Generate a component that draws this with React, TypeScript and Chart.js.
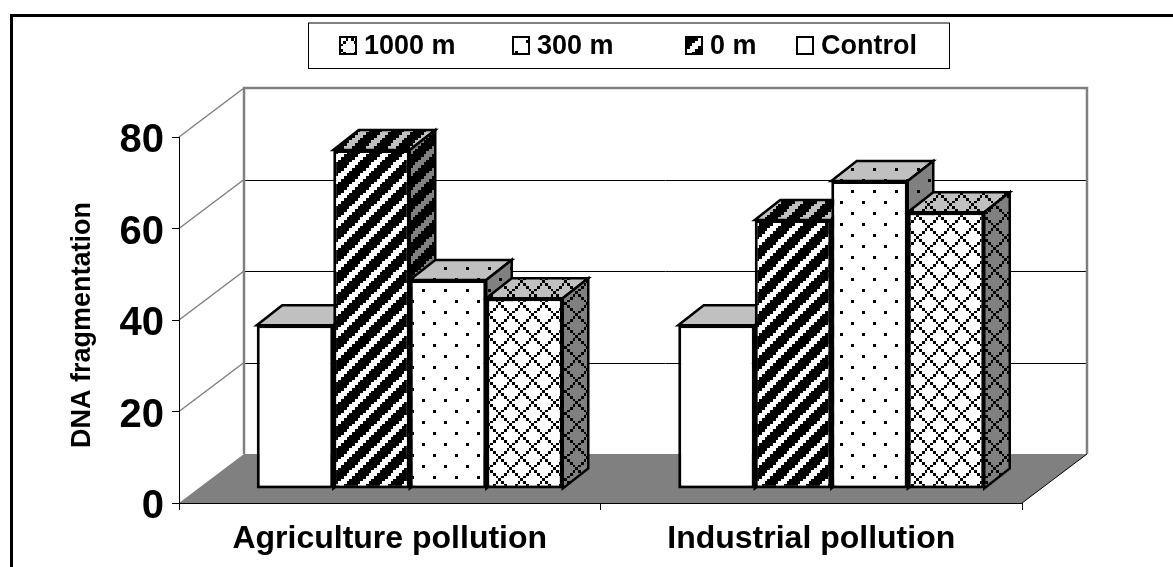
import React, { useEffect, useRef } from "react";
import { Chart, registerables } from "chart.js";

Chart.register(...registerables);

const categories = ["Agriculture pollution", "Industrial pollution"];
const seriesLabels = ["Control", "0 m", "300 m", "1000 m"];
const controlValues = [35.8, 35.8];
const zeroMValues = [74.1, 58.8];
const threeHundredMValues = [45.7, 67.3];
const thousandMValues = [41.7, 60.5];
const yTicks = [0, 20, 40, 60, 80];

const FONT = "'Liberation Sans', Arial, sans-serif";
const WALL_DX = 65;
const WALL_DY = -49;
const BAR_SHIFT_X = 20;
const BAR_SHIFT_Y = -14;
const BAR_DEPTH_X = 25.5;
const BAR_DEPTH_Y = -20;
const CELL = 2.75;
const TILE = 22;

type Kind = "solid" | "stripe" | "dots" | "cross";

const PHASE: Record<Kind, [number, number]> = {
  solid: [0, 0],
  stripe: [21, 0],
  dots: [6, 17],
  cross: [16, 8],
};

function isInk(kind: Kind, cx: number, cy: number): boolean {
  if (kind === "stripe") return (cx + cy) % 8 > 2;
  if (kind === "dots") return (cx % 8 === 0 && cy % 8 === 0) || (cx % 8 === 4 && cy % 8 === 4);
  if (kind === "cross") return (cx + cy) % 8 === 0 || (((cx - cy) % 8) + 8) % 8 === 0;
  return false;
}

function makePattern(ctx: CanvasRenderingContext2D, kind: Kind, paper: string): CanvasPattern | string {
  if (kind === "solid") return paper;
  const tile = document.createElement("canvas");
  tile.width = TILE;
  tile.height = TILE;
  const t = tile.getContext("2d")!;
  t.fillStyle = paper;
  t.fillRect(0, 0, TILE, TILE);
  t.fillStyle = "#000";
  const [px, py] = PHASE[kind];
  for (let y = 0; y < TILE; y++) {
    for (let x = 0; x < TILE; x++) {
      const cx = Math.floor(((x - px + TILE) % TILE) / CELL);
      const cy = Math.floor(((y - py + TILE) % TILE) / CELL);
      if (isInk(kind, cx, cy)) t.fillRect(x, y, 1, 1);
    }
  }
  return ctx.createPattern(tile, "repeat")!;
}

export default function App() {
  const ref = useRef<HTMLCanvasElement>(null);

  useEffect(() => {
    document.body.style.margin = "0";
    const canvas = ref.current!;
    const ctx = canvas.getContext("2d")!;
    const kinds: Kind[] = ["solid", "stripe", "dots", "cross"];
    const fronts = kinds.map((k) => makePattern(ctx, k, "#ffffff"));
    const tops = kinds.map((k) => makePattern(ctx, k, "#c0c0c0"));
    const sides = kinds.map((k) => makePattern(ctx, k, "#808080"));

    const scene = {
      id: "scene",
      beforeDraw(chart: any) {
        const c = chart.ctx;
        const { left, right, top, bottom } = chart.chartArea;
        const y = chart.scales.y;
        c.save();
        c.fillStyle = "#fff";
        c.fillRect(0, 0, chart.width, chart.height);
        // outer frame
        c.fillStyle = "#000";
        c.fillRect(10, 14, chart.width - 10, 3);
        c.fillRect(10, 14, 3, chart.height - 14);
        // floor
        c.fillStyle = "#808080";
        c.beginPath();
        c.moveTo(left, bottom);
        c.lineTo(left + WALL_DX, bottom + WALL_DY);
        c.lineTo(right + WALL_DX, bottom + WALL_DY);
        c.lineTo(right, bottom);
        c.closePath();
        c.fill();
        // gridlines
        for (const v of yTicks) {
          const py = y.getPixelForValue(v);
          if (v > 0) {
            c.lineWidth = 1.5;
            c.strokeStyle = "#808080";
            c.beginPath();
            c.moveTo(left, py);
            c.lineTo(left + WALL_DX, py + WALL_DY);
            c.stroke();
          }
          if (v > 0 && v < 80) {
            c.lineWidth = 1;
            c.strokeStyle = "#000";
            c.beginPath();
            c.moveTo(left + WALL_DX, Math.round(py + WALL_DY) + 0.5);
            c.lineTo(right + WALL_DX, Math.round(py + WALL_DY) + 0.5);
            c.stroke();
          }
        }
        // back wall edges
        c.strokeStyle = "#808080";
        c.lineWidth = 2.5;
        c.beginPath();
        c.moveTo(left + WALL_DX, bottom + WALL_DY);
        c.lineTo(left + WALL_DX, top + WALL_DY);
        c.lineTo(right + WALL_DX, top + WALL_DY);
        c.lineTo(right + WALL_DX, bottom + WALL_DY);
        c.stroke();
        // floor right edge
        c.strokeStyle = "#000";
        c.lineWidth = 1;
        c.beginPath();
        c.moveTo(right, bottom);
        c.lineTo(right + WALL_DX, bottom + WALL_DY);
        c.stroke();
        c.restore();
      },
      beforeDatasetsDraw(chart: any) {
        const c = chart.ctx;
        c.save();
        c.translate(BAR_SHIFT_X, BAR_SHIFT_Y);
        chart.data.datasets.forEach((_: any, i: number) => {
          const meta = chart.getDatasetMeta(i);
          c.lineWidth = 2.5;
          c.lineJoin = "miter";
          c.strokeStyle = "#000";
          meta.data.forEach((el: any) => {
            const { x, y, base, width } = el.getProps(["x", "y", "base", "width"], true);
            const l = x - width / 2;
            const r = x + width / 2;
            c.fillStyle = tops[i];
            c.beginPath();
            c.moveTo(l, y);
            c.lineTo(l + BAR_DEPTH_X, y + BAR_DEPTH_Y);
            c.lineTo(r + BAR_DEPTH_X, y + BAR_DEPTH_Y);
            c.lineTo(r, y);
            c.closePath();
            c.fill();
            c.stroke();
            c.fillStyle = sides[i];
            c.beginPath();
            c.moveTo(r, y);
            c.lineTo(r + BAR_DEPTH_X, y + BAR_DEPTH_Y);
            c.lineTo(r + BAR_DEPTH_X, base + BAR_DEPTH_Y);
            c.lineTo(r, base);
            c.closePath();
            c.fill();
            c.stroke();
          });
          meta.controller.draw();
        });
        c.restore();
        return false;
      },
      afterDraw(chart: any) {
        const c = chart.ctx;
        c.save();
        // legend frame
        c.fillStyle = "#fff";
        c.fillRect(308, 23, 642, 45);
        c.fillStyle = "#808080";
        c.fillRect(308, 22, 642, 2);
        c.fillStyle = "#000";
        c.fillRect(308, 23, 1, 46);
        c.fillRect(308, 68, 642, 1);
        c.fillRect(949, 23, 1, 46);
        // legend entries, last series first
        const swatchX = [340, 513, 686, 797];
        const swatchPhase: [number, number][] = [[-3, 9], [2, 14], [6, 6], [0, 0]];
        c.font = `bold 27px ${FONT}`;
        c.textBaseline = "middle";
        c.textAlign = "left";
        [3, 2, 1, 0].forEach((series, n) => {
          const sx = swatchX[n];
          c.save();
          c.beginPath();
          c.rect(sx, 37, 16, 17);
          c.clip();
          c.translate(sx + swatchPhase[n][0] - PHASE[kinds[series]][0], 37 + swatchPhase[n][1] - PHASE[kinds[series]][1]);
          c.fillStyle = fronts[series];
          c.fillRect(-60, -60, 120, 120);
          c.restore();
          c.strokeStyle = "#000";
          c.lineWidth = 2;
          c.strokeRect(sx, 37, 16, 17);
          c.fillStyle = "#000";
          c.fillText(chart.data.datasets[series].label, sx + 24, 46.5);
        });
        c.restore();
      },
    };

    const values = [controlValues, zeroMValues, threeHundredMValues, thousandMValues];
    const chart = new Chart(canvas, {
      type: "bar",
      data: {
        labels: categories,
        datasets: seriesLabels.map((label, i) => ({
          label,
          data: values[i],
          backgroundColor: fronts[i] as any,
          borderColor: "#000",
          borderWidth: 3,
          borderSkipped: false,
          barPercentage: 1,
          categoryPercentage: 0.726,
        })),
      },
      options: {
        responsive: false,
        animation: false,
        layout: { padding: { top: 137, right: 151, left: 0, bottom: 0 } },
        plugins: { legend: { display: false }, title: { display: false }, tooltip: { enabled: false } },
        scales: {
          x: {
            afterFit: (s: any) => { s.height = 64; },
            grid: { drawOnChartArea: false, drawTicks: true, tickLength: 7, color: "#000", offset: true },
            border: { display: true, color: "#000", width: 1 },
            ticks: { color: "#000", maxRotation: 0, padding: 10, font: { family: FONT, size: 32, weight: "bold" } },
          },
          y: {
            min: 0,
            max: 80,
            afterFit: (s: any) => {
              s.width = 179;
              if (!s.__titleShifted) {
                s.__titleShifted = true;
                const drawTitle = s.drawTitle;
                s.drawTitle = function () {
                  s.ctx.save();
                  s.ctx.translate(0, 5);
                  drawTitle.call(s);
                  s.ctx.restore();
                };
              }
            },
            grid: { drawOnChartArea: false, drawTicks: true, tickLength: 7, color: "#000" },
            border: { display: true, color: "#000", width: 1 },
            ticks: { color: "#000", stepSize: 20, padding: 8, labelOffset: 4, font: { family: FONT, size: 40, weight: "bold" } },
            title: {
              display: true,
              text: "DNA fragmentation",
              color: "#000",
              padding: { top: 66, bottom: 0 },
              font: { family: FONT, size: 27, weight: "bold" },
            },
          },
        },
      },
      plugins: [scene],
    } as any);
    return () => chart.destroy();
  }, []);

  return <canvas ref={ref} width={1173} height={567} style={{ display: "block", width: 1173, height: 567 }} />;
}
